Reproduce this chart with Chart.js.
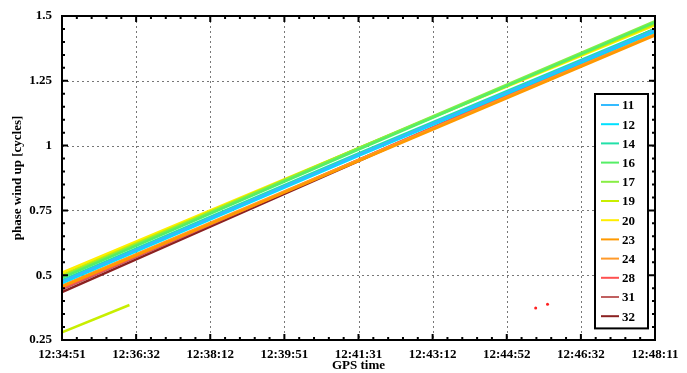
<!DOCTYPE html>
<html>
<head>
<meta charset="utf-8">
<script src="https://cdn.jsdelivr.net/npm/chart.js@4/dist/chart.umd.min.js"></script>
<style>
  html, body { margin: 0; padding: 0; background: #fff; }
  #wrap { width: 687px; height: 373px; }
</style>
</head>
<body>
<div id="wrap"><canvas id="phase-chart"></canvas></div>
<script>
// seconds since 12:34:51 and the axis labels for them
const tickSeconds = [0, 100, 200, 300, 400, 500, 600, 700, 800];
const tickLabels = ['12:34:51', '12:36:32', '12:38:12', '12:39:51', '12:41:31', '12:43:12', '12:44:52', '12:46:32', '12:48:11'];
const yTicks = [0.25, 0.5, 0.75, 1, 1.25, 1.5];

const satellites = ['11', '12', '14', '16', '17', '19', '20', '23', '24', '28', '31', '32'];
const satColors = ['#33bbff', '#00e0ff', '#22e0a8', '#55ee66', '#88ee44', '#c8ee00', '#ffee00', '#ff9900', '#ff9a2a', '#ff5050', '#c06060', '#8b2020'];

// phase wind-up (cycles) read at t = 0, 400, 800 s
const timeSec = [0, 400, 800];
const phase11 = [0.475, 0.965, 1.445];
const phase12 = [0.47, 0.96, 1.44];
const phase14 = [0.48, 0.97, 1.45];
const phase16 = [0.49, 0.985, 1.475];
const phase17 = [0.495, 0.99, 1.48];
const phase19 = [0.50, 0.99, 1.47];
const phase20 = [0.51, 0.99, 1.465];
const phase23 = [0.455, 0.94, 1.425];
const phase24 = [0.46, 0.945, 1.43];
const phase28 = [0.45, 0.945, 1.44];
const phase31 = [0.445, 0.945, 1.445];
const phase32 = [0.435, 0.94, 1.45];
const phases = [phase11, phase12, phase14, phase16, phase17, phase19, phase20, phase23, phase24, phase28, phase31, phase32];

// short stray pieces (19 after slip, 28 fragments)
const stray19Time = [0, 91];
const stray19Phase = [0.28, 0.385];
const stray28Time = [639, 655];
const stray28Phase = [0.373, 0.388];

const datasets = satellites.map((sat, i) => ({
    label: sat,
    data: timeSec.map((t, k) => ({ x: t, y: phases[i][k] })),
    borderColor: satColors[i],
    borderWidth: 2.5,
    pointRadius: 0,
    tension: 0
}));
datasets.push({
    label: '',
    data: stray19Time.map((t, k) => ({ x: t, y: stray19Phase[k] })),
    borderColor: satColors[5], borderWidth: 2.5, pointRadius: 0
});
datasets.push({
    label: '',
    data: stray28Time.map((t, k) => ({ x: t, y: stray28Phase[k] })),
    borderColor: '#ff2020', borderWidth: 0, showLine: false,
    pointRadius: 1.5, pointBackgroundColor: '#ff2020', pointBorderWidth: 0
});

const FONT = 'Liberation Serif';

// grid, inward ticks, frame and legend box
const frame = {
    id: 'frame',
    beforeDatasetsDraw(chart) {
        const { ctx, chartArea: a, scales: { x, y } } = chart;
        ctx.save();
        ctx.strokeStyle = '#777';
        ctx.lineWidth = 1;
        ctx.setLineDash([2, 3]);
        tickSeconds.forEach(t => {
            const px = Math.round(x.getPixelForValue(t)) + 0.5;
            ctx.beginPath(); ctx.moveTo(px, a.top); ctx.lineTo(px, a.bottom); ctx.stroke();
        });
        yTicks.forEach(v => {
            const py = Math.round(y.getPixelForValue(v)) + 0.5;
            ctx.beginPath(); ctx.moveTo(a.left, py); ctx.lineTo(a.right, py); ctx.stroke();
        });
        ctx.restore();
    },
    afterDraw(chart) {
        const { ctx, chartArea: a, scales: { x, y } } = chart;
        ctx.save();
        ctx.strokeStyle = '#000';
        ctx.lineWidth = 2;
        for (let t = 0; t <= 800; t += 20) {
            const px = x.getPixelForValue(t);
            const len = t % 100 === 0 ? 6 : 3;
            ctx.beginPath();
            ctx.moveTo(px, a.bottom); ctx.lineTo(px, a.bottom - len);
            ctx.moveTo(px, a.top); ctx.lineTo(px, a.top + len);
            ctx.stroke();
        }
        for (let k = 0; k <= 25; k++) {
            const v = 0.25 + k * 0.05;
            const py = y.getPixelForValue(v);
            const len = k % 5 === 0 ? 6 : 3;
            ctx.beginPath();
            ctx.moveTo(a.left, py); ctx.lineTo(a.left + len, py);
            ctx.moveTo(a.right, py); ctx.lineTo(a.right - len, py);
            ctx.stroke();
        }
        ctx.strokeRect(a.left, a.top, a.right - a.left, a.bottom - a.top);

        // legend
        const items = chart.data.datasets.filter(d => d.label);
        const bx = 595, by = 94, bw = 53, rowH = 19.2;
        const bh = rowH * items.length + 4;
        ctx.fillStyle = '#fff';
        ctx.fillRect(bx, by, bw, bh);
        ctx.strokeRect(bx, by, bw, bh);
        ctx.font = 'bold 13px "' + FONT + '"';
        ctx.textBaseline = 'middle';
        items.forEach((d, i) => {
            const cy = by + 11 + i * rowH;
            ctx.strokeStyle = d.borderColor;
            ctx.lineWidth = 2;
            ctx.beginPath(); ctx.moveTo(bx + 6, cy); ctx.lineTo(bx + 24, cy); ctx.stroke();
            ctx.fillStyle = '#000';
            ctx.fillText(d.label, bx + 27, cy + 1);
        });
        ctx.restore();
    }
};

new Chart(document.getElementById('phase-chart'), {
    type: 'line',
    data: { datasets },
    options: {
        responsive: true,
        maintainAspectRatio: false,
        animation: false,
        layout: { padding: { top: 16, right: 32, left: 0, bottom: 0 } },
        plugins: { legend: { display: false }, tooltip: { enabled: false } },
        scales: {
            x: {
                type: 'linear', min: 0, max: 800,
                afterBuildTicks: s => { s.ticks = tickSeconds.map(v => ({ value: v })); },
                afterFit: s => { s.height = 33; },
                grid: { display: false },
                border: { display: false },
                ticks: {
                    color: '#000', padding: -1, maxRotation: 0,
                    font: { family: FONT, weight: 'bold', size: 13 },
                    callback: v => tickLabels[tickSeconds.indexOf(v)]
                },
                title: {
                    display: true, text: 'GPS time', color: '#000', padding: { top: -2, bottom: 0 },
                    font: { family: FONT, weight: 'bold', size: 13 }
                }
            },
            y: {
                min: 0.25, max: 1.5,
                afterBuildTicks: s => { s.ticks = yTicks.map(v => ({ value: v })); },
                afterFit: s => { s.width = 62; },
                grid: { display: false },
                border: { display: false },
                ticks: {
                    color: '#000', padding: 2,
                    font: { family: FONT, weight: 'bold', size: 13 },
                    callback: v => String(v)
                },
                title: {
                    display: true, text: 'phase wind up [cycles]', color: '#000', padding: { top: 10, bottom: 0 },
                    font: { family: FONT, weight: 'bold', size: 13 }
                }
            }
        }
    },
    plugins: [frame]
});
</script>
</body>
</html>
